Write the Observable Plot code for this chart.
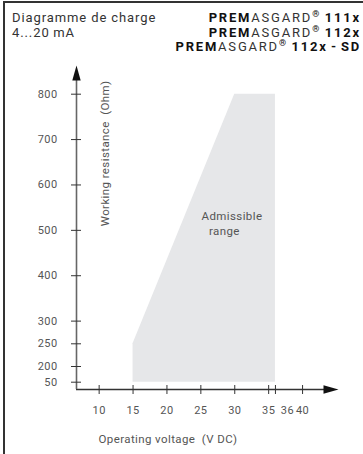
<!DOCTYPE html>
<html><head><meta charset="utf-8">
<script src="https://cdn.jsdelivr.net/npm/d3@7"></script>
<script src="https://cdn.jsdelivr.net/npm/@observablehq/plot@0.6"></script>
<style>
body{margin:0;background:#fff;}
#wrap{position:relative;width:363px;height:454px;overflow:hidden;font-family:Roboto,sans-serif;}
.bt{position:absolute;left:3px;top:1px;right:0;height:2px;background:#333;}
.bl{position:absolute;left:3px;top:1px;bottom:0;width:1.6px;background:#333;}
#tl{position:absolute;left:12px;top:11px;font-size:13px;line-height:14.6px;color:#333;letter-spacing:0.9px;white-space:nowrap;}
#tr{position:absolute;right:2px;top:11px;font-size:13px;line-height:14.6px;color:#333;text-align:right;letter-spacing:1.8px;white-space:nowrap;}
#tr b{font-weight:700;color:#111;}
#tr sup{font-size:9px;font-weight:700;vertical-align:5px;line-height:0;letter-spacing:0.5px;color:#111;}
#chart{position:absolute;left:0;top:0;}
#chart text{white-space:pre;letter-spacing:0.4px;}
</style></head>
<body>
<div id="wrap">
  <div class="bt"></div><div class="bl"></div>
  <div id="tl"></div>
  <div id="tr"></div>
  <div id="chart"></div>
</div>
<script>
// Titles
const titleLines = ["Diagramme de charge", "4...20\u2009mA"];
const products = [
  {bold: "PREM", reg: "ASGARD", sup: "®", model: "111x"},
  {bold: "PREM", reg: "ASGARD", sup: "®", model: "112x"},
  {bold: "PREM", reg: "ASGARD", sup: "®", model: "112x\u200a-\u200aSD"}
];
// Axis ticks
const xTicks = [10, 15, 20, 25, 30, 35, 36, 40];
const yTicks = [50, 200, 250, 300, 400, 500, 600, 700, 800];
// Admissible range (operating voltage V DC vs max working resistance Ohm)
const voltage = [15, 30, 36];
const maxResistance = [250, 800, 800];
const minResistance = 50;
// Axis extents (data units)
const xOrigin = 6.66, xTip = 45.3;
const yOrigin = 0, yTip = 863;
const xLabel = "Operating voltage  (V DC)";
const yLabel = "Working resistance  (Ohm)";
const regionLabel = ["Admissible", "range"];

document.getElementById("tl").innerHTML = titleLines.join("<br>");
document.getElementById("tr").innerHTML = products.map(p =>
  `<b>${p.bold}</b>${p.reg}<sup>${p.sup}</sup> <b>${p.model}</b>`).join("<br>");

const region = voltage.map((v, i) => ({v, top: maxResistance[i]}));

// arrow head symbol: tip at origin, pointing up
const arrowHead = {draw(ctx) { ctx.moveTo(0, 0); ctx.lineTo(-4.2, 15); ctx.lineTo(4.2, 15); ctx.closePath(); }};

const ink = "#333";
const grey = "#555";

const chart = Plot.plot({
  width: 363, height: 454,
  marginLeft: 76, marginRight: 25, marginTop: 65, marginBottom: 65,
  style: {fontFamily: "Roboto, sans-serif", fontSize: "11px", background: "transparent", color: grey},
  x: {type: "linear", domain: [xOrigin, xTip], range: [76, 338]},
  y: {type: "linear", domain: [yOrigin, 50, 200, yTip], range: [389, 381.7, 366, 65.1]},
  marks: [
    Plot.areaY(region, {x: "v", y1: minResistance, y2: "top", fill: "#e6e7e9"}),
    Plot.ruleY([yOrigin], {x1: xOrigin, x2: xTip - 1, stroke: ink, strokeWidth: 1.5}),
    Plot.ruleX([xOrigin], {y1: yOrigin, y2: yTip - 20, stroke: "#666", strokeWidth: 1.6}),
    Plot.dot([0], {x: xTip, y: yOrigin, symbol: arrowHead, fill: "#111", stroke: null, rotate: 90}),
    Plot.dot([0], {x: xOrigin, y: yTip, symbol: arrowHead, fill: "#111", stroke: null}),
    Plot.axisY(yTicks, {anchor: "left", tickSize: 10, dx: 5, tickPadding: 14, label: null, stroke: ink, fill: grey, fontSize: 11}),
    Plot.axisX(xTicks, {anchor: "bottom", tickSize: 9, dy: -4, tickPadding: 12, label: null, stroke: ink, fill: grey, fontSize: 11,
      tickFormat: d => d === 36 ? "" : d}),
    Plot.text([36], {x: d => d, frameAnchor: "bottom", dx: 12, dy: 17, lineAnchor: "top", fill: grey, fontSize: 11}),
    Plot.text([xLabel], {frameAnchor: "bottom-left", textAnchor: "start", dx: 22, dy: 53, fill: grey, fontSize: 11.5}),
    Plot.text([yLabel], {frameAnchor: "top-left", textAnchor: "end", rotate: -90, dx: 24.5, dy: 15, fill: grey, fontSize: 11.5}),
    Plot.text([regionLabel[0]], {x: 25.1, y: 530, textAnchor: "start", fill: grey, fontSize: 11.5}),
    Plot.text([regionLabel[1]], {x: 26.2, y: 497, textAnchor: "start", fill: grey, fontSize: 11.5})
  ]
});
document.getElementById("chart").appendChild(chart);
</script>
</body></html>
